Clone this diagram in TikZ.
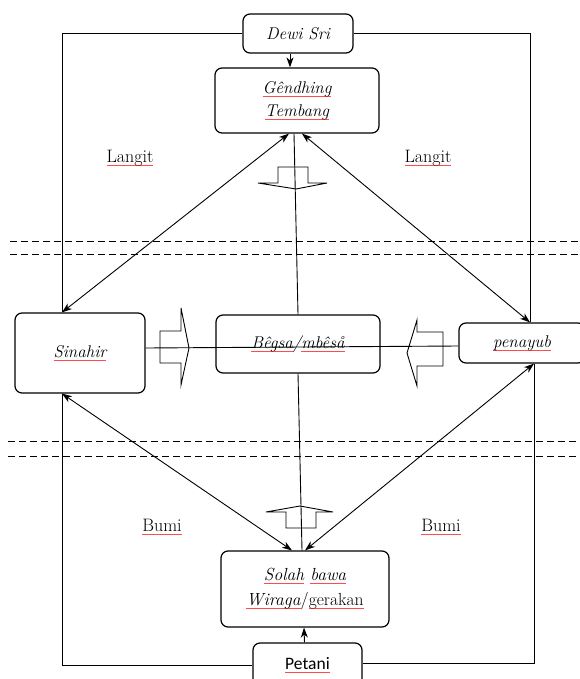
\documentclass[tikz,border=0pt]{standalone}
\usepackage{fontspec}
\newfontfamily\petanifont{Carlito}
\usetikzlibrary{positioning, arrows.meta}
\newcommand{\spell}[1]{\setbox0\hbox{#1}\rlap{\textcolor{red!70}{\rule[-3.6pt]{\wd0}{1pt}}}\box0\relax}
\tikzset{
    box/.style={draw, line width=1.2pt, rounded corners=7pt, fill=white, align=center, inner sep=0pt, font=\fontsize{17.5}{25}\selectfont},
    it/.style={font=\fontsize{17}{23}\selectfont\itshape},
    lbl/.style={font=\fontsize{18}{20}\selectfont},
    link/.style={line width=0.9pt},
    arr/.style={link, -{Stealth[length=10pt, width=7pt, inset=3pt]}},
    dbl/.style={link, {Stealth[length=10pt, width=7pt, inset=3pt]}-{Stealth[length=10pt, width=7pt, inset=3pt]}},
    fat/.style={line width=0.9pt, fill=white, line join=miter},
    band/.style={line width=1.1pt, dash pattern=on 7pt off 4pt},
}

\begin{document}
\begin{tikzpicture}[x=1pt, y=-1pt]
    \useasboundingbox (0,0) rectangle (579,679);
    \draw[band] (10,241.5) -- (579,241.5);
    \draw[band] (10,254.5) -- (579,254.5);
    \draw[band] (8,441.5) -- (579,441.5);
    \draw[band] (8,456.5) -- (579,456.5);

    \draw[fat] (278,167) -- (308,167) -- (308,183) -- (327,183) -- (296,189) -- (258,183) -- (278,183) -- cycle;
    \draw[fat] (286,528) -- (316,528) -- (316,512) -- (333,512) -- (300,506) -- (266,512) -- (286,512) -- cycle;
    \draw[fat] (160,331) -- (160,363) -- (181,363) -- (181,385) -- (189,348) -- (181,308) -- (181,331) -- cycle;
    \draw[fat] (443,332) -- (443,366) -- (417,366) -- (417,386) -- (407,353) -- (417,320) -- (417,332) -- cycle;

    \node[box, it, minimum width=110pt, minimum height=39pt] (dewi) at (298,33.5) {Dewi Sri};
    \node[box, it, minimum width=164pt, minimum height=65pt] (gendhing) at (297,100.5) {\spell{Gêndhing}\\\spell{Tembang}};
    \node[box, it, minimum width=130pt, minimum height=80pt] (sinahir) at (80,353) {\spell{Sinahir}};
    \node[box, it, minimum width=164pt, minimum height=58pt] (begsa) at (298,344) {\spell{Bêgsa}/\spell{mbêså}};
    \node[box, it, minimum width=126pt, minimum height=40pt] (penayub) at (522,343) {\spell{penayub}};
    \node[box, minimum width=168pt, minimum height=76pt] (solah) at (305,589) {\textit{\spell{Solah} \spell{bawa}}\\\spell{\textit{Wiraga}}/\spell{gerakan}};
    \node[box, minimum width=109pt, minimum height=44pt, font=\petanifont\fontsize{17.5}{20}\selectfont] (petani) at (307.5,665) {\spell{Petani}};

    \node[lbl] (langitl) at (130,158) {\spell{Langit}};
    \node[lbl] (langitr) at (428,158) {\spell{Langit}};
    \node[lbl] (bumil) at (162,527) {\spell{Bumi}};
    \node[lbl] (bumir) at (441,527) {\spell{Bumi}};

    \coordinate (tl) at (62,33.5);
    \coordinate (bl) at (62,665);
    \coordinate (tr) at (530,33.5);
    \coordinate (br) at (534,663);

    \draw[link] (dewi.west) -- (tl) -- (sinahir.north -| tl);
    \draw[link] (sinahir.south -| bl) -- (bl) -- (petani.west);
    \draw[link] (dewi.east) -- (tr) -- (penayub.north -| tr);
    \draw[link] (penayub.south -| br) -- (br) -- (br -| petani.east);

    \draw[arr] ([xshift=-8pt]dewi.south) -- ([xshift=-7pt]gendhing.north);
    \draw[arr] ([xshift=-3pt]petani.north) -- ([xshift=-1pt]solah.south);
    \draw[link] ([xshift=-3pt]gendhing.south) -- (begsa.north);
    \draw[link] (begsa.south) -- ([xshift=-3pt]solah.north);
    \draw[link] ([yshift=5pt]sinahir.east) -- ([yshift=-3pt]penayub.west);

    \draw[dbl] ([xshift=-8pt]gendhing.south) -- (sinahir.north -| tl);
    \draw[dbl] ([xshift=5pt]gendhing.south) -- (penayub.north -| tr);
    \draw[dbl] (sinahir.south -| bl) -- ([xshift=-13pt]solah.north);
    \draw[dbl] (penayub.south -| br) -- (solah.north);
\end{tikzpicture}
\end{document}
